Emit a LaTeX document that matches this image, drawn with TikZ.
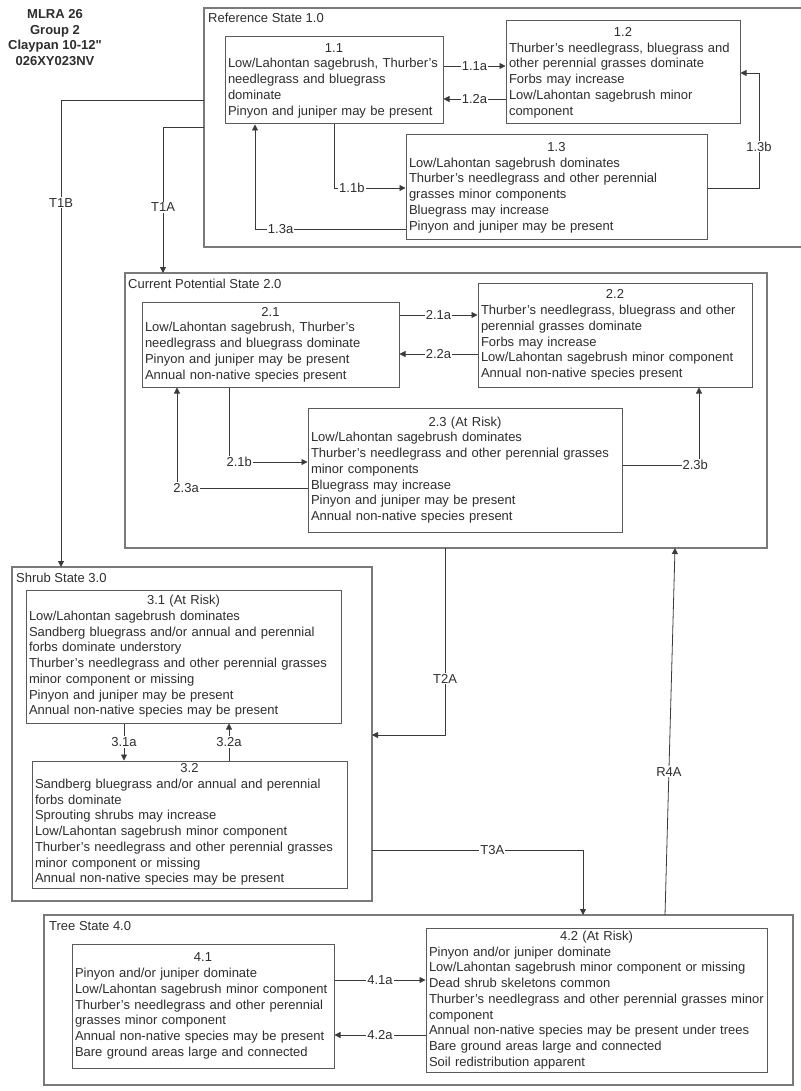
\documentclass[tikz,border=0pt]{standalone}
\usepackage{fontspec}
\setmainfont{Liberation Sans}
\newfontfamily\plainsans{Liberation Sans}
\usetikzlibrary{arrows.meta}
\definecolor{txtc}{HTML}{2E2E2E}
\definecolor{boxc}{HTML}{5A5A5A}
\definecolor{framec}{HTML}{7A7A7A}
\definecolor{linec}{HTML}{3A3A3A}
\tikzset{
  stbox/.style={draw=boxc, line width=1pt, fill=white, align=left, inner xsep=3pt, inner ysep=0pt,
    text=txtc, font=\fontsize{13}{15.75}\selectfont},
  frame/.style={draw=framec, line width=1.3pt},
  framelbl/.style={anchor=west, inner sep=0pt, text=txtc, font=\fontsize{13}{15.75}\selectfont},
  conn/.style={draw=linec, line width=0.8pt},
  arr/.style={conn, -{Triangle[length=6pt,width=6pt]}},
  lbl/.style={fill=white, inner sep=1pt, text=txtc, font=\fontsize{13}{15.75}\selectfont},
}
\newcommand{\hdr}[1]{\makebox[\linewidth]{#1}\\}
\begin{document}
\begin{tikzpicture}[x=1pt,y=-1pt]
\useasboundingbox (0,0) rectangle (800,1091);
\fill[white] (0,0) rectangle (800,1091);

% title
\node[align=center, font=\plainsans\bfseries\fontsize{13}{15.7}\selectfont, text=txtc] (title) at (55,37.5)
  {MLRA 26\\Group 2\\Claypan 10-12"\\026XY023NV};

% state frames
\draw[frame] (204,8) rectangle (803,247);
\node[framelbl] (s1lbl) at (208,18) {Reference State 1.0};
\draw[frame] (125,273) rectangle (767,548);
\node[framelbl] (s2lbl) at (128,284) {Current Potential State 2.0};
\draw[frame] (12,567) rectangle (372,901);
\node[framelbl] (s3lbl) at (16,578) {Shrub State 3.0};
\draw[frame] (44,915) rectangle (793,1085);
\node[framelbl] (s4lbl) at (49,926) {Tree State 4.0};

% named frame anchors
\coordinate (s1w) at (204,0);
\coordinate (s2top) at (0,273);
\coordinate (s2bot) at (0,548);
\coordinate (s3top) at (0,567);
\coordinate (s3right) at (372,0);
\coordinate (s4top) at (0,915);

% boxes
\node[stbox, minimum width=218pt, minimum height=87pt, text width=212pt] (b11) at (334,80.5)
 {\hdr{1.1}Low/Lahontan sagebrush, Thurber’s\\needlegrass and bluegrass\\dominate\\Pinyon and juniper may be present};
\node[stbox, minimum width=234pt, minimum height=103pt, text width=228pt] (b12) at (623,72.5)
 {\hdr{1.2}Thurber’s needlegrass, bluegrass and\\other perennial grasses dominate\\Forbs may increase\\Low/Lahontan sagebrush minor\\component};
\node[stbox, minimum width=301pt, minimum height=105pt, text width=295pt] (b13) at (556.5,187.5)
 {\hdr{1.3}Low/Lahontan sagebrush dominates\\Thurber’s needlegrass and other perennial\\grasses minor components\\Bluegrass may increase\\Pinyon and juniper may be present};

\node[stbox, minimum width=257pt, minimum height=85pt, text width=251pt] (b21) at (270.5,344.5)
 {\hdr{2.1}Low/Lahontan sagebrush, Thurber’s\\needlegrass and bluegrass dominate\\Pinyon and juniper may be present\\Annual non-native species present};
\node[stbox, minimum width=274pt, minimum height=104pt, text width=268pt] (b22) at (615,335)
 {\hdr{2.2}Thurber’s needlegrass, bluegrass and other\\perennial grasses dominate\\Forbs may increase\\Low/Lahontan sagebrush minor component\\Annual non-native species present};
\node[stbox, minimum width=314pt, minimum height=124pt, text width=308pt] (b23) at (465,470)
 {\hdr{2.3 (At Risk)}Low/Lahontan sagebrush dominates\\Thurber’s needlegrass and other perennial grasses\\minor components\\Bluegrass may increase\\Pinyon and juniper may be present\\Annual non-native species present};

\node[stbox, minimum width=315pt, minimum height=133pt, text width=309pt] (b31) at (183.5,656.5)
 {\hdr{3.1 (At Risk)}Low/Lahontan sagebrush dominates\\Sandberg bluegrass and/or annual and perennial\\forbs dominate understory\\Thurber’s needlegrass and other perennial grasses\\minor component or missing\\Pinyon and juniper may be present\\Annual non-native species may be present};
\node[stbox, minimum width=315pt, minimum height=127pt, text width=309pt] (b32) at (189.5,824.5)
 {\hdr{3.2}Sandberg bluegrass and/or annual and perennial\\forbs dominate\\Sprouting shrubs may increase\\Low/Lahontan sagebrush minor component\\Thurber’s needlegrass and other perennial grasses\\minor component or missing\\Annual non-native species may be present};

\node[stbox, minimum width=262pt, minimum height=124pt, text width=256pt] (b41) at (203,1006)
 {\hdr{4.1}Pinyon and/or juniper dominate\\Low/Lahontan sagebrush minor component\\Thurber’s needlegrass and other perennial\\grasses minor component\\Annual non-native species may be present\\Bare ground areas large and connected};
\node[stbox, minimum width=341pt, minimum height=144pt, text width=335pt] (b42) at (596.5,1000)
 {\hdr{4.2 (At Risk)}Pinyon and/or juniper dominate\\Low/Lahontan sagebrush minor component or missing\\Dead shrub skeletons common\\Thurber’s needlegrass and other perennial grasses minor\\component\\Annual non-native species may be present under trees\\Bare ground areas large and connected\\Soil redistribution apparent};

% ---- connectors, state 1
\draw[arr] (b11.east |- 0,66) -- node[lbl, pos=0.5]{1.1a} (b12.west |- 0,66);
\draw[arr] (b12.west |- 0,99) -- node[lbl, pos=0.5]{1.2a} (b11.east |- 0,99);
\draw[arr] (b11.south) -- (334,188) -- node[lbl, pos=0.25]{1.1b} (b13.west |- 0,188);
\draw[arr] (b13.west |- 0,229) -- node[lbl, pos=0.83]{1.3a} (255,229) -- (b11.south -| 255,0);
\draw[arr] (b13.east |- 0,188) -- (759,188) -- node[lbl, pos=0.36]{1.3b} (759,73) -- (b12.east |- 0,73);

% transitions from state 1
\draw[arr] (s1w |- 0,100) -- (61,100) -- node[lbl, pos=0.22]{T1B} (61,0 |- s3top);
\draw[arr] (s1w |- 0,127) -- (163,127) -- node[lbl, pos=0.55]{T1A} (163,0 |- s2top);

% ---- connectors, state 2
\draw[arr] (b21.east |- 0,315) -- node[lbl, pos=0.5]{2.1a} (b22.west |- 0,315);
\draw[arr] (b22.west |- 0,354) -- node[lbl, pos=0.5]{2.2a} (b21.east |- 0,354);
\draw[arr] (b21.south -| 229,0) -- (229,462) -- node[lbl, pos=0.13]{2.1b} (b23.west |- 0,462);
\draw[arr] (b23.west |- 0,488) -- node[lbl, pos=0.93]{2.3a} (177,488) -- (b21.south -| 177,0);
\draw[arr] (b23.east |- 0,465) -- node[lbl, pos=0.95]{2.3b} (699,465) -- (b22.south -| 699,0);

% T2A, T3A, R4A
\draw[arr] (445,0 |- s2bot) -- node[lbl, pos=0.70]{T2A} (445,735) -- (s3right |- 0,735);
\draw[arr] (s3right |- 0,850) -- node[lbl, pos=0.57]{T3A} (583,850) -- (583,0 |- s4top);
\draw[arr] (665,0 |- s4top) -- node[lbl, pos=0.39]{R4A} (675,0 |- s2bot);

% ---- connectors, state 3
\draw[arr] (b31.south -| 124,0) -- node[lbl, pos=0.5]{3.1a} (b32.north -| 124,0);
\draw[arr] (b32.north -| 229,0) -- node[lbl, pos=0.5]{3.2a} (b31.south -| 229,0);

% ---- connectors, state 4
\draw[arr] (b41.east |- 0,980) -- node[lbl, pos=0.5]{4.1a} (b42.west |- 0,980);
\draw[arr] (b42.west |- 0,1035) -- node[lbl, pos=0.5]{4.2a} (b41.east |- 0,1035);
\end{tikzpicture}
\end{document}
